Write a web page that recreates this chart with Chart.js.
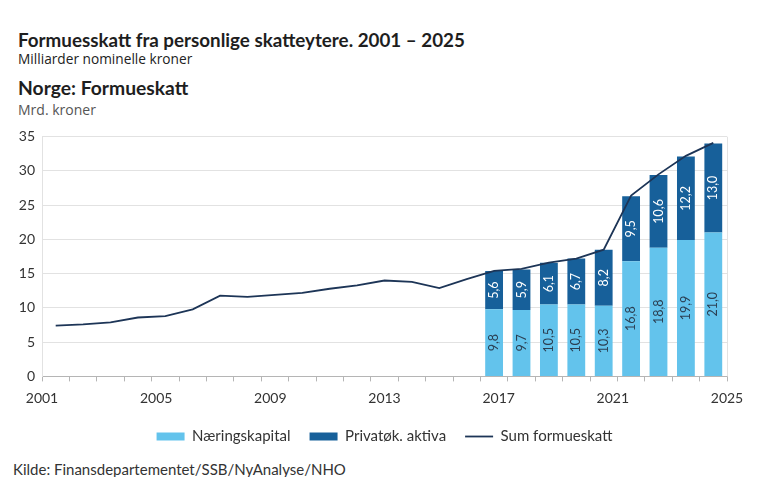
<!DOCTYPE html>
<html lang="no">
<head>
  <meta charset="UTF-8">
  <title>Norge: Formueskatt</title>
  <script src="https://cdn.jsdelivr.net/npm/chart.js"></script>
  <style>
    body {
      margin: 0;
      width: 770px;
      height: 500px;
      background: #fff;
      font-family: Lato, "Open Sans", sans-serif;
      color: #1e1e1e;
      position: relative;
      overflow: hidden;
    }
    .txt { position: absolute; left: 18px; white-space: nowrap; line-height: 1; }
    #tittel { top: 30.8px; font-size: 18.8px; font-weight: 700; }
    #under { top: 51.8px; font-family: "Open Sans", sans-serif; font-size: 13.7px; color: #222; }
    #norge { top: 77.9px; font-size: 19.3px; font-weight: 700; }
    #enhet { top: 102.6px; font-family: "Open Sans", sans-serif; font-size: 14px; color: #555; }
    #kilde { left: 13px; top: 461.7px; height: 15px; font-size: 15px; color: #333; overflow: hidden; }
    #boks { position: absolute; left: 0; top: 125px; width: 770px; height: 329px; }
  </style>
</head>
<body>
  <div class="txt" id="tittel">Formuesskatt fra personlige skatteytere. 2001 – 2025</div>
  <div class="txt" id="under">Milliarder nominelle kroner</div>
  <div class="txt" id="norge">Norge: Formueskatt</div>
  <div class="txt" id="enhet">Mrd. kroner</div>

  <div id="boks"><canvas id="formueChart"></canvas></div>

  <div class="txt" id="kilde">Kilde: Finansdepartementet/SSB/NyAnalyse/NHO</div>

  <script>
    // Data
    const aar = ['2001','2002','2003','2004','2005','2006','2007','2008','2009','2010','2011','2012','2013',
                 '2014','2015','2016','2017','2018','2019','2020','2021','2022','2023','2024','2025'];
    const sumFormueskatt = [7.4, 7.6, 7.9, 8.6, 8.8, 9.8, 11.8, 11.6, 11.9, 12.2, 12.8, 13.3, 14.0,
                            13.8, 12.9, 14.2, 15.4, 15.7, 16.6, 17.2, 18.5, 26.4, 29.5, 32.2, 34.1];
    const soyleAar = ['2017','2018','2019','2020','2021','2022','2023','2024','2025'];
    const naeringskapital = [9.8, 9.7, 10.5, 10.5, 10.3, 16.8, 18.8, 19.9, 21.0];
    const privatAktiva = [5.6, 5.9, 6.1, 6.7, 8.2, 9.5, 10.6, 12.2, 13.0];
    const yTicks = [0, 5, 10, 15, 20, 25, 30, 35];
    const xEtiketter = [2001, 2005, 2009, 2013, 2017, 2021, 2025];

    // fyll ut søylene til hele årsrekka
    const tilAar = (verdier) => aar.map(a => {
      const i = soyleAar.indexOf(a);
      return i < 0 ? null : verdier[i];
    });

    const lysBla = '#63c3ec';
    const morkBla = '#17609a';
    const linjeFarge = '#1d3557';
    const rutenett = '#e2e2e2';
    const skrift = 'Lato, "Open Sans", sans-serif';

    // tall inne i søylene + ramme til høyre
    const soyleTall = {
      id: 'soyleTall',
      beforeDatasetsDraw(chart) {
        const { ctx, chartArea } = chart;
        ctx.save();
        ctx.strokeStyle = rutenett;
        ctx.lineWidth = 1;
        ctx.beginPath();
        ctx.moveTo(chartArea.right + 0.5, chartArea.top);
        ctx.lineTo(chartArea.right + 0.5, chartArea.bottom);
        ctx.stroke();
        ctx.restore();
      },
      afterDatasetsDraw(chart) {
        const { ctx } = chart;
        [0, 1].forEach(di => {
          const meta = chart.getDatasetMeta(di);
          const farge = di === 0 ? '#2b3f52' : '#ffffff';
          meta.data.forEach((el, i) => {
            const v = chart.data.datasets[di].data[i];
            if (v === null || v === undefined) return;
            const midt = (el.y + el.base) / 2;
            ctx.save();
            ctx.translate(el.x, midt);
            ctx.rotate(-Math.PI / 2);
            ctx.fillStyle = farge;
            ctx.font = '12.5px ' + skrift;
            ctx.textAlign = 'center';
            ctx.textBaseline = 'middle';
            ctx.fillText(v.toFixed(1).replace('.', ','), 0, 0);
            ctx.restore();
          });
        });
      }
    };

    new Chart(document.getElementById('formueChart'), {
      type: 'bar',
      data: {
        labels: aar,
        datasets: [
          {
            label: 'Næringskapital',
            data: tilAar(naeringskapital),
            backgroundColor: lysBla,
            barPercentage: 0.65,
            categoryPercentage: 1,
            stack: 'soyle',
            pointStyle: 'rect',
            order: 1
          },
          {
            label: 'Privatøk. aktiva',
            data: tilAar(privatAktiva),
            backgroundColor: morkBla,
            barPercentage: 0.65,
            categoryPercentage: 1,
            stack: 'soyle',
            pointStyle: 'rect',
            order: 1
          },
          {
            type: 'line',
            label: 'Sum formueskatt',
            data: sumFormueskatt,
            borderColor: linjeFarge,
            backgroundColor: linjeFarge,
            borderWidth: 1.8,
            pointRadius: 0,
            pointStyle: 'line',
            tension: 0,
            stack: 'linje',
            order: 0
          }
        ]
      },
      options: {
        responsive: true,
        maintainAspectRatio: false,
        animation: false,
        layout: { padding: { top: 11.7, right: 43, left: 0, bottom: 0 } },
        plugins: {
          tooltip: { enabled: false },
          legend: {
            position: 'bottom',
            fullSize: false,
            labels: {
              usePointStyle: true,
              pointStyleWidth: 28,
              boxHeight: 8,
              padding: 19,
              color: '#333',
              font: { family: skrift, size: 15 },
              sort: (a, b) => a.datasetIndex - b.datasetIndex
            }
          }
        },
        scales: {
          x: {
            type: 'category',
            stacked: true,
            weight: 0,
            offset: true,
            grid: {
              offset: true,
              drawOnChartArea: false,
              drawTicks: true,
              tickLength: 5,
              color: '#b5b5b5'
            },
            border: { color: '#b5b5b5' },
            ticks: { display: false }
          },
          x2: {
            type: 'linear',
            position: 'bottom',
            weight: 1,
            offset: false,
            min: 2001,
            max: 2025,
            grid: { display: false, drawTicks: false, offset: false },
            border: { display: false },
            afterBuildTicks: (scale) => { scale.ticks = xEtiketter.map(v => ({ value: v })); },
            afterFit: (scale) => {
              scale.paddingLeft = 0;
              scale.paddingRight = 0;
              scale.height -= 4.8;
            },
            ticks: {
              padding: 8.3,
              color: '#333',
              font: { family: skrift, size: 14 },
              maxRotation: 0,
              autoSkip: false,
              callback: (v) => String(v)
            }
          },
          y: {
            stacked: true,
            min: 0,
            max: 35,
            afterBuildTicks: (scale) => { scale.ticks = yTicks.map(v => ({ value: v })); },
            afterFit: (scale) => {
              scale.width = 42;
              scale.paddingTop = 0;
              scale.paddingBottom = 0;
            },
            grid: { color: rutenett, drawTicks: false },
            border: { color: rutenett },
            ticks: {
              padding: 7,
              color: '#333',
              font: { family: skrift, size: 14 }
            }
          }
        }
      },
      plugins: [soyleTall]
    });
  </script>
</body>
</html>
